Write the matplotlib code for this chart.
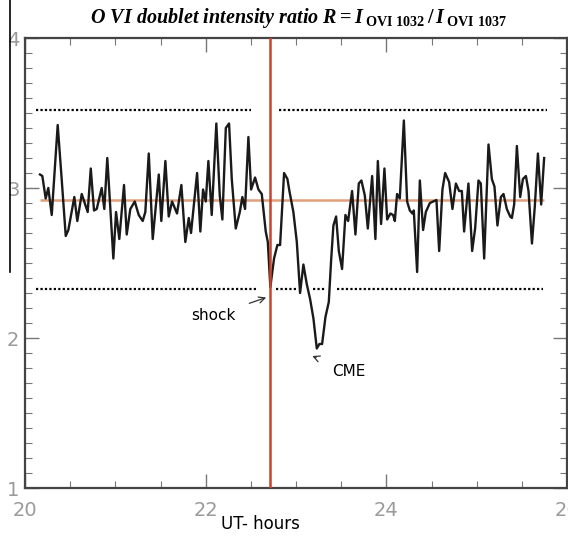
import matplotlib
matplotlib.use("Agg")
import matplotlib.pyplot as plt
from matplotlib.lines import Line2D
from matplotlib.ticker import MultipleLocator

plt.rcParams['mathtext.fontset'] = 'custom'
plt.rcParams['mathtext.it'] = 'Liberation Serif:italic:bold'
plt.rcParams['mathtext.rm'] = 'Liberation Serif:bold'
plt.rcParams['mathtext.bf'] = 'Liberation Serif:bold'

# ---- data (UT hours, ratio R) ----
hours = [20.166, 20.192, 20.229, 20.258, 20.296, 20.362, 20.406, 20.451, 20.480, 20.546,
         20.579, 20.628, 20.694, 20.728, 20.764, 20.794, 20.849, 20.878, 20.911, 20.978,
         21.008, 21.044, 21.096, 21.126, 21.166, 21.215, 21.259, 21.303, 21.332, 21.370,
         21.414, 21.481, 21.509, 21.554, 21.591, 21.628, 21.683, 21.731, 21.775, 21.813,
         21.838, 21.905, 21.941, 21.971, 22.001, 22.030, 22.067, 22.118, 22.156, 22.185,
         22.223, 22.259, 22.289, 22.333, 22.378, 22.406, 22.436, 22.473, 22.503, 22.547,
         22.584, 22.621, 22.665, 22.688, 22.716, 22.757, 22.794, 22.824, 22.868, 22.905,
         22.927, 22.971, 23.009, 23.045, 23.082, 23.119, 23.156, 23.193, 23.230, 23.259,
         23.289, 23.326, 23.363, 23.389, 23.414, 23.444, 23.474, 23.510, 23.547, 23.577,
         23.621, 23.658, 23.695, 23.724, 23.762, 23.795, 23.843, 23.879, 23.906, 23.942,
         23.979, 24.009, 24.045, 24.075, 24.094, 24.119, 24.149, 24.194, 24.230, 24.260,
         24.289, 24.304, 24.341, 24.371, 24.407, 24.437, 24.482, 24.518, 24.555, 24.585,
         24.621, 24.651, 24.695, 24.732, 24.770, 24.806, 24.836, 24.861, 24.909, 24.950,
         24.983, 25.020, 25.046, 25.083, 25.131, 25.168, 25.197, 25.230, 25.268, 25.297,
         25.334, 25.371, 25.390, 25.415, 25.445, 25.482, 25.512, 25.545, 25.574, 25.612,
         25.644, 25.678, 25.714, 25.747]
ratio = [3.09, 3.08, 2.93, 3.00, 2.82, 3.42, 3.06, 2.68, 2.72, 2.94,
         2.78, 2.96, 2.84, 3.13, 2.85, 2.86, 3.00, 2.86, 3.20, 2.53,
         2.84, 2.66, 3.02, 2.69, 2.86, 2.91, 2.82, 2.78, 2.84, 3.23,
         2.66, 3.09, 2.78, 3.18, 2.81, 2.91, 2.83, 3.02, 2.64, 2.80,
         2.70, 3.10, 2.71, 2.99, 2.91, 3.18, 2.82, 3.43, 2.95, 2.79,
         3.40, 3.43, 3.06, 2.73, 2.84, 2.94, 2.86, 3.34, 2.99, 3.07,
         2.99, 2.96, 2.71, 2.64, 2.34, 2.53, 2.62, 2.62, 3.10, 3.06,
         2.98, 2.84, 2.64, 2.30, 2.49, 2.36, 2.26, 2.13, 1.93, 1.96,
         1.96, 2.14, 2.24, 2.52, 2.75, 2.81, 2.58, 2.46, 2.82, 2.78,
         2.98, 2.69, 3.03, 3.05, 2.95, 2.73, 3.08, 2.66, 3.18, 2.76,
         3.13, 2.79, 2.83, 2.82, 2.78, 2.96, 2.93, 3.45, 2.91, 2.85,
         2.83, 2.85, 2.44, 3.05, 2.72, 2.84, 2.90, 2.91, 2.92, 2.58,
         2.99, 3.10, 3.04, 2.86, 3.03, 2.98, 2.98, 2.71, 3.03, 2.58,
         2.73, 3.05, 3.03, 2.53, 3.29, 3.06, 3.01, 2.75, 2.94, 2.96,
         2.86, 2.81, 2.80, 2.89, 3.28, 2.94, 3.06, 3.08, 2.98, 2.63,
         2.88, 3.23, 2.89, 3.20]

mean_level = 2.92
mean_span = (20.166, 25.75)
upper_level = 3.52
upper_segments = [(20.118, 22.503), (22.813, 25.781)]
lower_level = 2.33
lower_segments = [(20.118, 22.56), (22.78, 23.0), (23.19, 23.32), (23.455, 25.736)]
shock_time = 22.713

xticks = [20, 22, 24, 26]
yticks = [1, 2, 3, 4]

fig = plt.figure(figsize=(5.68, 5.38), dpi=100)
ax = fig.add_axes([25/568, 50/538, 542/568, 450/538])
ax.set_xlim(20, 26)
ax.set_ylim(1, 4)

for s in ax.spines.values():
    s.set_color('#444444')
    s.set_linewidth(1.6)

ax.xaxis.set_minor_locator(MultipleLocator(0.5))
ax.yaxis.set_minor_locator(MultipleLocator(0.1))
ax.set_xticks(xticks)
ax.set_yticks(yticks)
ax.set_xticklabels([str(t) for t in xticks])
ax.set_yticklabels([str(t) for t in yticks])
ax.tick_params(which='both', direction='in', top=True, right=True, color='#777777')
ax.tick_params(which='major', length=10, width=1.0, labelsize=14, labelcolor='#9a9a9a')
ax.tick_params(which='minor', length=5, width=0.8)
ax.tick_params(axis='x', which='major', pad=9)
ax.tick_params(axis='y', which='major', pad=4)

# mean level (orange)
ax.hlines(mean_level, mean_span[0], mean_span[1], color='#e0a07c', lw=1.8, zorder=2)
# dotted thresholds
for a, b in upper_segments:
    ax.hlines(upper_level, a, b, color='black', lw=1.6, linestyles=(0, (1, 1)), zorder=2)
for a, b in lower_segments:
    ax.hlines(lower_level, a, b, color='black', lw=1.6, linestyles=(0, (1, 1)), zorder=2)

# data
ax.plot(hours, ratio, color='#1a1a1a', lw=1.7, zorder=3)

# shock vertical line
ax.axvline(shock_time, color='#c8432e', lw=1.8, zorder=4)

# annotations
ax.annotate('shock', xy=(22.67, 2.27), xytext=(22.09, 2.15),
            fontsize=11, ha='center', va='center', color='black',
            arrowprops=dict(arrowstyle='->', color='#333333', lw=0.9, shrinkA=8, shrinkB=0))
ax.annotate('CME', xy=(23.18, 1.88), xytext=(23.58, 1.78),
            fontsize=11, ha='center', va='center', color='black',
            arrowprops=dict(arrowstyle='->', color='#333333', lw=0.9, shrinkA=10, shrinkB=0))

# title
fig.text(0.525, 0.966,
         r'$O\ VI\ doublet\ intensity\ ratio\ R = I_{\ \mathrm{OVI\ 1032}}\,/\,I_{\ \mathrm{OVI\ 1037}}$',
         ha='center', va='center', fontsize=14.5)

# x label
fig.text(260/568, 1 - 524/538, 'UT- hours', ha='center', va='center', fontsize=12, color='black')

# stray vertical border line on the left
fig.add_artist(Line2D([10/568, 10/568], [1.0, 1 - 272/538], transform=fig.transFigure,
                      color='black', lw=1.2))

fig.savefig('out.png', dpi=100)
